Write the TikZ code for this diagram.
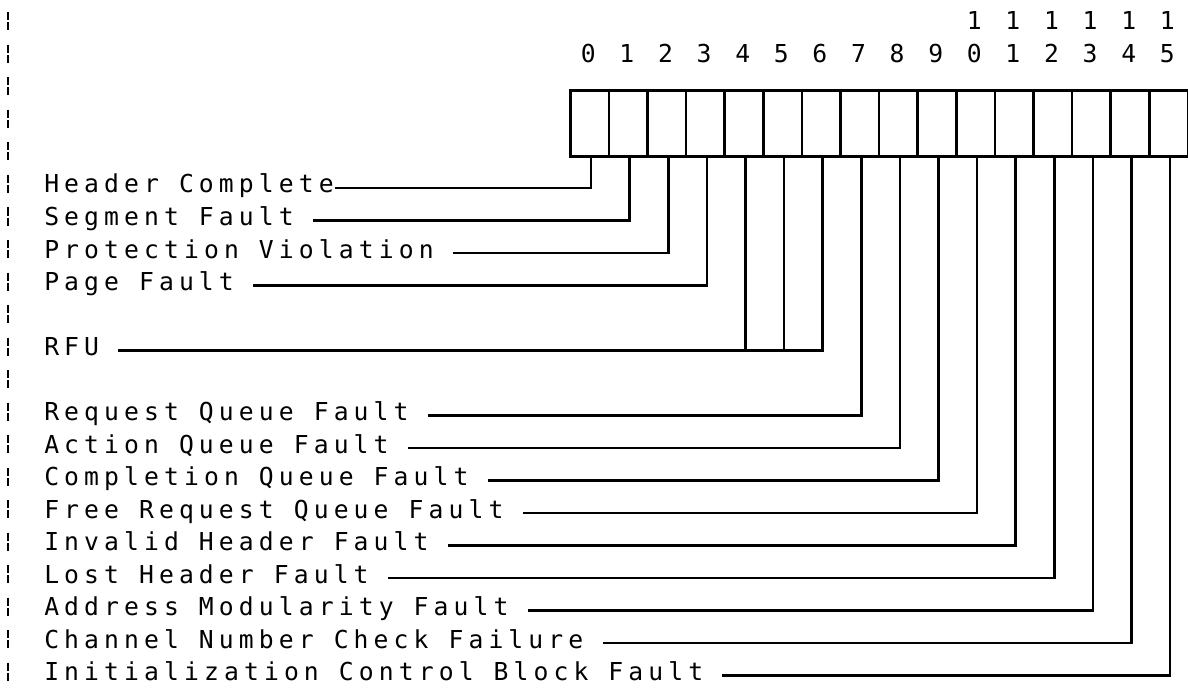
\documentclass[tikz,border=0pt]{standalone}
\usepackage{fontspec}
\newfontfamily\plotfont[LetterSpace=20.7]{DejaVu Sans Mono}
\newfontfamily\plotdigit{DejaVu Sans Mono}
\begin{document}
\begin{tikzpicture}[x=1pt,y=-1pt,line width=2.5pt,
  lbl/.style={font=\plotfont\fontsize{24.7}{26}\selectfont,inner sep=0pt,anchor=base west},
  dig/.style={font=\plotdigit\fontsize{24.7}{26}\selectfont,inner sep=0pt,anchor=base},
  cell/.style={draw,line width=2.6pt,minimum width=38.6pt,minimum height=66pt,inner sep=0pt,anchor=north west},
  wire/.style={line width=2.5pt},
  bar/.style={line width=2.5pt}]
\useasboundingbox (0,0) rectangle (1188,695);
% register cells
\foreach \i in {0,...,15} {
  \node[cell] (c\i) at ({569+38.6*\i},89) {};
}
% bit numbers
\foreach \i in {0,...,9} {
  \node[dig] (d\i) at ({569+38.6*(\i+0.5)},63) {\i};
}
\foreach \i/\j in {10/0,11/1,12/2,13/3,14/4,15/5} {
  \node[dig] (d\i) at ({569+38.6*(\i+0.5)},63) {\j};
  \node[dig] (u\i) at ({569+38.6*(\i+0.5)},30) {1};
}
% left broken bar
\foreach \k in {-5,...,15} {
  \draw[bar] (8,{184+32.5*\k-9}) -- ++(0,8);
  \draw[bar] (8,{184+32.5*\k+1}) -- ++(0,8);
}
% labels
\node[lbl] (l0) at (43,193) {Header Complete};
\node[lbl] (l1) at (43,225.5) {Segment Fault};
\node[lbl] (l2) at (43,258) {Protection Violation};
\node[lbl] (l3) at (43,290.5) {Page Fault};
\node[lbl] (l5) at (43,355.5) {RFU};
\node[lbl] (l7) at (43,420.5) {Request Queue Fault};
\node[lbl] (l8) at (43,453) {Action Queue Fault};
\node[lbl] (l9) at (43,485.5) {Completion Queue Fault};
\node[lbl] (l10) at (43,518) {Free Request Queue Fault};
\node[lbl] (l11) at (43,550.5) {Invalid Header Fault};
\node[lbl] (l12) at (43,583) {Lost Header Fault};
\node[lbl] (l13) at (43,615.5) {Address Modularity Fault};
\node[lbl] (l14) at (43,648) {Channel Number Check Failure};
\node[lbl] (l15) at (43,680.5) {Initialization Control Block Fault};
% wires
\draw[wire] ([xshift=1.5pt]c0.south) |- ([yshift=5pt]l0.base east);
\foreach \i in {1,2,3,7,8,9,10,11,12,13,14,15} {
  \draw[wire] ([xshift=1.5pt]c\i.south) |- ([xshift=18pt,yshift=5pt]l\i.base east);
}
\coordinate (r5) at ([xshift=18pt,yshift=5pt]l5.base east);
\draw[wire] ([xshift=1.5pt]c6.south) |- (r5);
\draw[wire] ([xshift=1.5pt]c4.south) -- ([xshift=1.5pt]c4.south |- r5);
\draw[wire] ([xshift=1.5pt]c5.south) -- ([xshift=1.5pt]c5.south |- r5);
\end{tikzpicture}
\end{document}
